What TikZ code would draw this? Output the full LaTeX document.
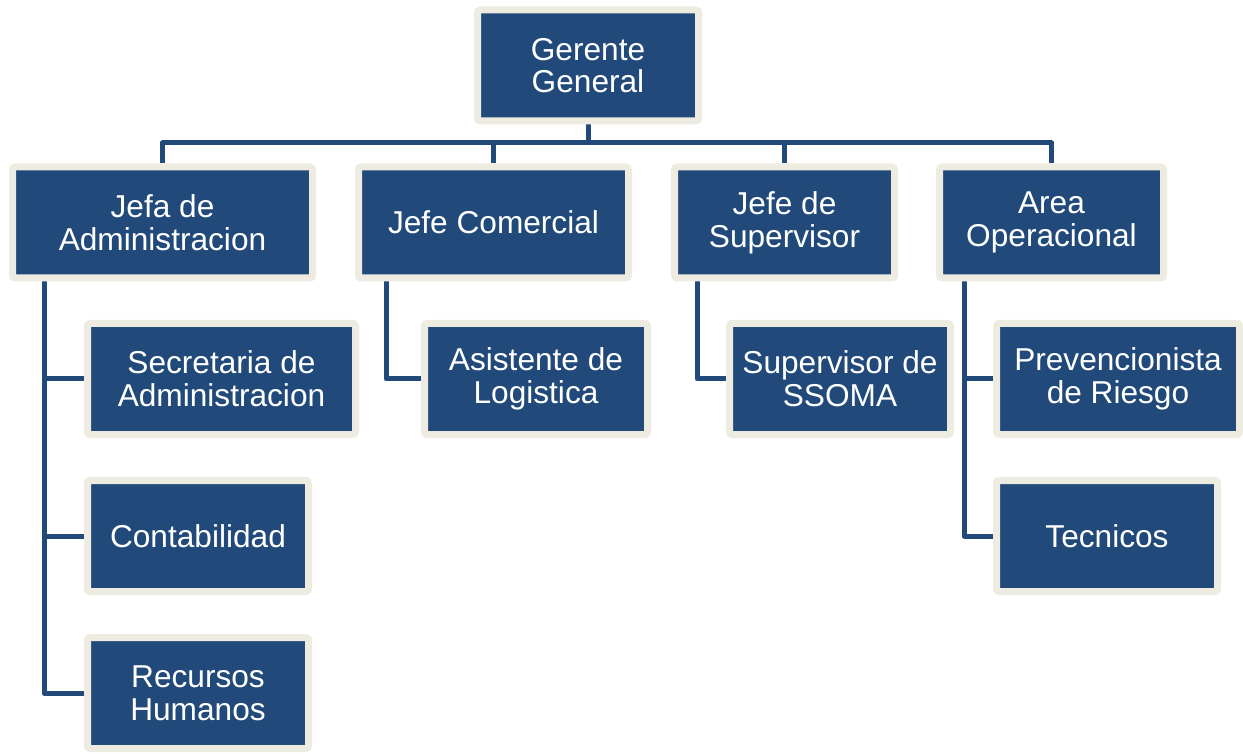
\documentclass[tikz,border=0pt]{standalone}
\usepackage{fontspec}
\setmainfont{Liberation Sans}
\usepackage{tikz}
\usetikzlibrary{shadows,backgrounds}

\definecolor{navy}{HTML}{214A7B}
\definecolor{cream}{HTML}{EEEBE0}

\tikzset{
  post/.style={fill=navy, draw=cream, line width=0.14cm, rounded corners=1.5pt,
    text=white, align=center, minimum height=2.22cm, inner sep=0pt,
    font=\fontsize{18}{18.6}\selectfont,
    drop shadow={opacity=0.35, shadow xshift=0.5pt, shadow yshift=-1.5pt}},
  link/.style={draw=navy, line width=0.1cm, line join=round}
}

\begin{document}
\begin{tikzpicture}
  \useasboundingbox (0,0) rectangle (24.86,-15.08);
  % Draw top box
  \node[post, minimum width=4.42cm] (gg) at (11.76,-1.31) {Gerente\\General};
  % Draw second row
  \node[post, minimum width=6.00cm] (ja) at (3.25,-4.45) {Jefa de\\Administracion};
  \node[post, minimum width=5.40cm] (jc) at (9.87,-4.45) {Jefe Comercial};
  \node[post, minimum width=4.40cm] (js) at (15.69,-4.45) {Jefe de\\Supervisor};
  \node[post, minimum width=4.48cm] (ao) at (21.03,-4.45) {Area\\Operacional};
  % Draw third row
  \node[post, minimum width=5.36cm] (sa) at (4.43,-7.58) {Secretaria de\\Administracion};
  \node[post, minimum width=4.46cm] (al) at (10.72,-7.58) {Asistente de\\Logistica};
  \node[post, minimum width=4.42cm] (ss) at (16.80,-7.58) {Supervisor de\\SSOMA};
  \node[post, minimum width=4.86cm] (pr) at (22.36,-7.58) {Prevencionista\\de Riesgo};
  % Draw fourth and fifth row
  \node[post, minimum width=4.42cm] (co) at (3.96,-10.72) {Contabilidad};
  \node[post, minimum width=4.42cm] (te) at (22.14,-10.72) {Tecnicos};
  \node[post, minimum width=4.42cm] (rh) at (3.96,-13.86) {Recursos\\Humanos};

  \begin{scope}[on background layer]
    % Draw top connectors
    \coordinate (bus) at (11.76,-2.86);
    \draw[link] (gg.south) -- (bus);
    \draw[link] (ja.north) -- (ja.north |- bus) -| (ao.north);
    \draw[link] (jc.north) -- (jc.north |- bus);
    \draw[link] (js.north) -- (js.north |- bus);
    % Draw side connectors
    \coordinate (jaleg) at (0.88,-5.6);
    \coordinate (jcleg) at (7.72,-5.6);
    \coordinate (jsleg) at (13.94,-5.6);
    \coordinate (aoleg) at (19.28,-5.6);
    \draw[link] (jaleg) |- (rh.west);
    \draw[link] (sa.west) -- (sa.west -| jaleg);
    \draw[link] (co.west) -- (co.west -| jaleg);
    \draw[link] (jcleg) |- (al.west);
    \draw[link] (jsleg) |- (ss.west);
    \draw[link] (aoleg) |- (te.west);
    \draw[link] (pr.west) -- (pr.west -| aoleg);
  \end{scope}
\end{tikzpicture}
\end{document}
